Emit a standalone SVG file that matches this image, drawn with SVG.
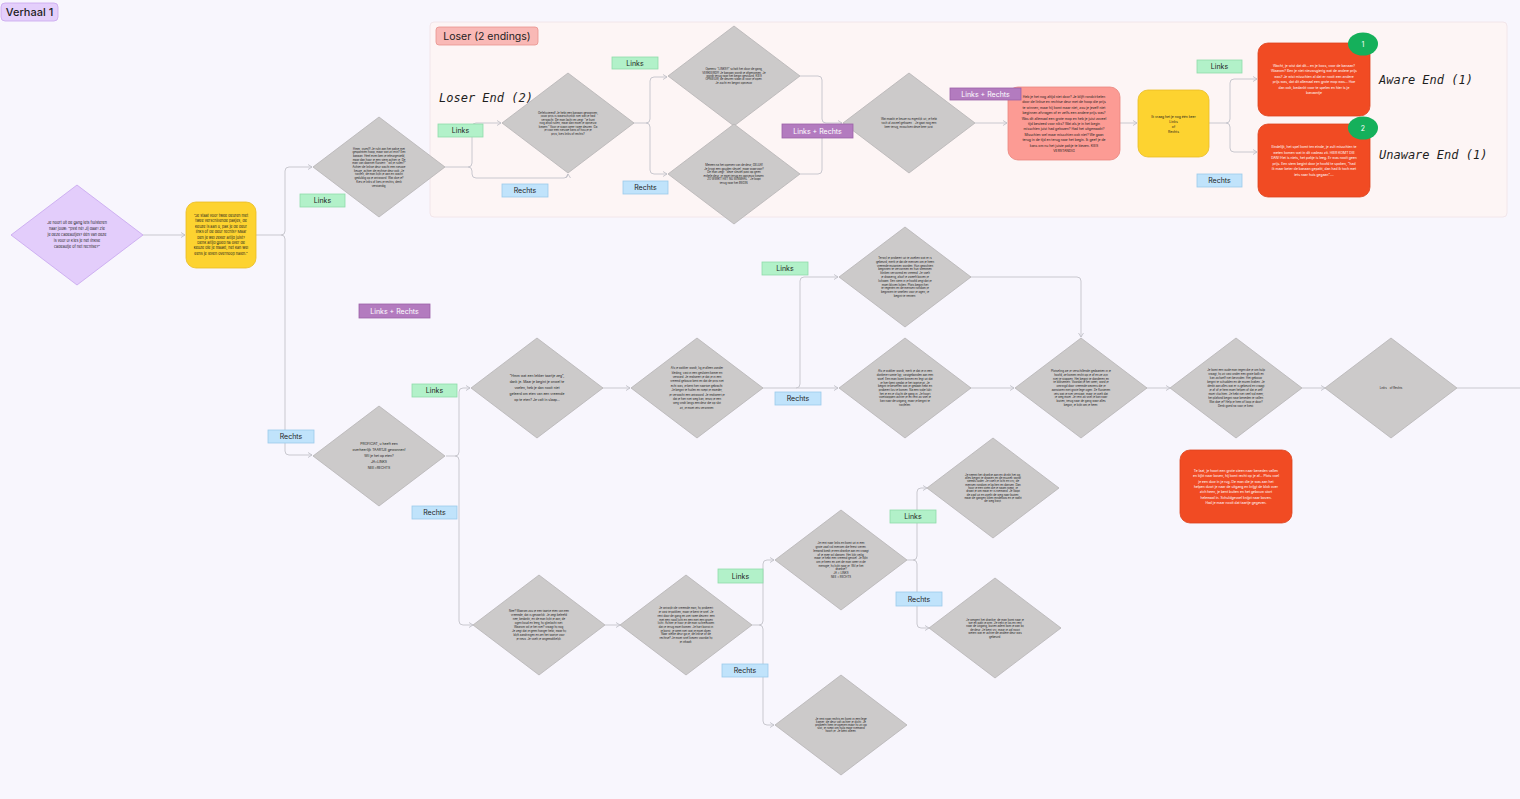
<svg xmlns="http://www.w3.org/2000/svg" xmlns:xlink="http://www.w3.org/1999/xlink" width="1520" height="799" viewBox="0 0 1520 799">
<style>
.t{font-family:Inter,"Liberation Sans",sans-serif;fill:#1e1e1e}
.w{font-family:Inter,"Liberation Sans",sans-serif;fill:#ffffff}
.tiny{font-size:2.8px}
.sm{font-size:3.4px}
.md{font-size:3.7px}
.lbl{font-size:7px}
.hand{font-family:"DejaVu Sans Mono",monospace;font-style:italic;font-size:12px;fill:#1e1e1e}
.conn{fill:none;stroke:#c9c8cf;stroke-width:1}
.green{fill:#b2f1c9;stroke:#8fdcaa;stroke-width:0.8}
.blue{fill:#c0e3fb;stroke:#9ccaea;stroke-width:0.8}
.purp{fill:#b37bbf;stroke:#9c62a8;stroke-width:0.8}
.dia{fill:#cccaca;stroke:#b6b4b5;stroke-width:0.8}
.red{fill:#f14b23;stroke:#dc421d;stroke-width:0.8}
.yel{fill:#fdd330;stroke:#e8bd24;stroke-width:0.8}
</style>
<defs>
<polygon id="dshape" class="dia" points="-66,0 0,-50 66,0 0,50"/>
<marker id="arr" markerWidth="6" markerHeight="6" refX="5" refY="3" orient="auto" markerUnits="userSpaceOnUse">
<path d="M1,0.5 L5,3 L1,5.5" fill="none" stroke="#bdbcc4" stroke-width="0.8"/>
</marker>
</defs>
<rect x="0" y="0" width="1520" height="799" fill="#f8f6fd"/>
<rect x="430" y="22" width="1077" height="195" rx="4" fill="#fdf5f5" stroke="#f2e6ea" stroke-width="1"/>

<g id="title">
<rect x="1" y="3" width="57" height="18" rx="4" fill="#e4cffb" stroke="#c8a6ee" stroke-width="0.8"/>
<text class="t" x="29.5" y="16" font-size="11" font-weight="500" text-anchor="middle">Verhaal 1</text>
</g>
<g id="section-loser">
<rect x="436" y="27" width="102" height="18" rx="3" fill="#f9b9b6" stroke="#e8928d" stroke-width="0.8"/>
<text class="t" x="487" y="40" font-size="10.5" text-anchor="middle">Loser (2 endings)</text>
<text class="hand" x="439" y="102">Loser End (2)</text>
<text class="hand" x="1379" y="84">Aware End (1)</text>
<text class="hand" x="1379" y="159">Unaware End (1)</text>
</g>

<g id="connectors">
<path class="conn" d="M143,235 H185" marker-end="url(#arr)"/>
<path class="conn" d="M256,235 H281 Q285,235 285,231 V171 Q285,167 289,167 H312" marker-end="url(#arr)"/>
<path class="conn" d="M281,235 Q285,235 285,239 V451 Q285,455 289,455 H312" marker-end="url(#arr)"/>
<path class="conn" d="M445,167 H468 Q472,167 472,163 V127 Q472,123 476,123 H501" marker-end="url(#arr)"/>
<path class="conn" d="M468,167 Q472,167 472,171 V174 Q472,178 476,178 H564 Q568,178 568,174" marker-end="url(#arr)"/>
<path class="conn" d="M633,123 H646 Q650,123 650,119 V81 Q650,77 654,77 H667" marker-end="url(#arr)"/>
<path class="conn" d="M646,123 Q650,123 650,127 V170 Q650,174 654,174 H667" marker-end="url(#arr)"/>
<path class="conn" d="M800,76 H818 Q822,76 822,80 V119 Q822,123 826,123 H842" marker-end="url(#arr)"/>
<path class="conn" d="M800,174 H818 Q822,174 822,170 V127"/>
<path class="conn" d="M975,123 H1007" marker-end="url(#arr)"/>
<path class="conn" d="M1120,123 H1137" marker-end="url(#arr)"/>
<path class="conn" d="M1209,123 H1226 Q1230,123 1230,119 V83 Q1230,79 1234,79 H1257" marker-end="url(#arr)"/>
<path class="conn" d="M1226,123 Q1230,123 1230,127 V148 Q1230,152 1234,152 H1257" marker-end="url(#arr)"/>
<path class="conn" d="M446,456 H455 Q459,456 459,452 V392 Q459,388 463,388 H470" marker-end="url(#arr)"/>
<path class="conn" d="M455,456 Q459,456 459,460 V621 Q459,625 463,625 H473" marker-end="url(#arr)"/>
<path class="conn" d="M602,388 H630" marker-end="url(#arr)"/>
<path class="conn" d="M762,388 H796 Q800,388 800,384 V281 Q800,277 804,277 H838" marker-end="url(#arr)"/>
<path class="conn" d="M796,388 H838" marker-end="url(#arr)"/>
<path class="conn" d="M970,277 H1077 Q1081,277 1081,281 V337" marker-end="url(#arr)"/>
<path class="conn" d="M970,388 H1014" marker-end="url(#arr)"/>
<path class="conn" d="M1146,388 H1170" marker-end="url(#arr)"/>
<path class="conn" d="M1302,388 H1325" marker-end="url(#arr)"/>
<path class="conn" d="M1457,388 H1520" stroke-width="1.5"/>
<path class="conn" d="M605,625 H620" marker-end="url(#arr)"/>
<path class="conn" d="M752,625 H759 Q763,625 763,621 V564 Q763,560 767,560 H774" marker-end="url(#arr)"/>
<path class="conn" d="M759,625 Q763,625 763,629 V721 Q763,725 767,725 H774" marker-end="url(#arr)"/>
<path class="conn" d="M907,560 H913 Q917,560 917,556 V492 Q917,488 921,488 H927" marker-end="url(#arr)"/>
<path class="conn" d="M913,560 Q917,560 917,564 V624 Q917,628 921,628 H929" marker-end="url(#arr)"/>
</g>

<g id="n-start" transform="translate(77,235)">
<polygon points="-66,0 0,-50 66,0 0,50" fill="#e3cdfb" stroke="#c7a5ef" stroke-width="0.8"/>
<text class="t md" text-anchor="middle" y="-10.7"><tspan x="0">Je hoort uit de gang iets fluisteren</tspan><tspan x="0" dy="6">naar jouw: "psst hé! Jij daar! Zie</tspan><tspan x="0" dy="6">je deze cadeautjes? één van deze</tspan><tspan x="0" dy="6">is voor u! Kies je het linkse</tspan><tspan x="0" dy="6">cadeautje of het rechtse?"</tspan></text>
</g>

<g id="n-deuren">
<rect class="yel" x="186" y="202" width="70" height="66" rx="10"/>
<text class="t md" text-anchor="middle" y="217"><tspan x="221">"Je staat voor twee deuren met</tspan><tspan x="221" dy="5.4">twee verschillende pakjes, de</tspan><tspan x="221" dy="5.4">keuze is aan u, pak je de deur</tspan><tspan x="221" dy="5.4">links of de deur rechts? Maar</tspan><tspan x="221" dy="5.4">ben je wel zeker altijd juist?</tspan><tspan x="221" dy="5.4">Denk altijd goed na over de</tspan><tspan x="221" dy="5.4">keuze die je maakt, het kan wel</tspan><tspan x="221" dy="5.4">eens je leven overhoop halen."</tspan></text>
</g>

<g id="n-A" transform="translate(379,167)">
<use xlink:href="#dshape"/>
<text class="t tiny" text-anchor="middle" y="-17.5"><tspan x="0">Hmm, ijsjes!!! Je rukt aan het pakje met</tspan><tspan x="0" dy="3.7">gespannen hoop, maar wat zit erin? Een</tspan><tspan x="0" dy="3.7">banaan. Heel even ben je teleurgesteld,</tspan><tspan x="0" dy="3.7">maar dan hoor je een stem achter je. De</tspan><tspan x="0" dy="3.7">man van daarnet fluistert: "wil je ruilen?"</tspan><tspan x="0" dy="3.7">Achter de linkse deur wacht een nieuwe</tspan><tspan x="0" dy="3.7">keuze, achter de rechtse deur ook. Je</tspan><tspan x="0" dy="3.7">twijfelt, de man kijkt je aan en wacht</tspan><tspan x="0" dy="3.7">geduldig op je antwoord. Wat doe je?</tspan><tspan x="0" dy="3.7">Kies je links of kies je rechts, denk</tspan><tspan x="0" dy="3.7">verstandig.</tspan></text>
</g>

<g id="n-B" transform="translate(568,123)">
<use xlink:href="#dshape"/>
<text class="t tiny" text-anchor="middle" y="-9.5"><tspan x="0">Gefeliciteerd! Je hebt een banaan gewonnen,</tspan><tspan x="0" dy="3.5">jouw prijs is waarschijnlijk niet wat je had</tspan><tspan x="0" dy="3.5">verwacht. De man lacht en zegt: "je kunt</tspan><tspan x="0" dy="3.5">nog altijd ruilen, maar dan moet je opnieuw</tspan><tspan x="0" dy="3.5">kiezen." Voor je staan weer twee deuren. Ga</tspan><tspan x="0" dy="3.5">je voor een nieuwe kans of hou je je</tspan><tspan x="0" dy="3.5">prijs, kies links of rechts?</tspan></text>
</g>

<g id="n-C" transform="translate(734,76)">
<use xlink:href="#dshape"/>
<text class="t tiny" text-anchor="middle" y="-5.6"><tspan x="0">Opeens: "LINKS!!" schalt het door de gang,</tspan><tspan x="0" dy="3.3">VERKEERD!!! Je banaan wordt je afgenomen. Je</tspan><tspan x="0" dy="3.3">wordt terug naar het begin gestuurd, KIES</tspan><tspan x="0" dy="3.3">OPNIEUW, de deuren staan al voor je open.</tspan><tspan x="0" dy="3.3">Je zucht en begint opnieuw.</tspan></text>
</g>

<g id="n-D" transform="translate(734,174)">
<use xlink:href="#dshape"/>
<text class="t tiny" text-anchor="middle" y="-7.7"><tspan x="0">Meteen na het openen van de deur, GELUK!</tspan><tspan x="0" dy="3.5">Je krijgt een gouden sleutel, maar waarvoor?</tspan><tspan x="0" dy="3.5">De man zegt: "deze sleutel past op geen</tspan><tspan x="0" dy="3.5">enkele deur, je moet terug en opnieuw kiezen.</tspan><tspan x="0" dy="3.5">ZO WERKT HET NU EENMAAL." Je loopt</tspan><tspan x="0" dy="3.5">terug naar het BEGIN.</tspan></text>
</g>

<g id="n-E" transform="translate(909,123)">
<use xlink:href="#dshape"/>
<text class="t tiny" text-anchor="middle" y="-3"><tspan x="0">Wat maakt je keuze nu eigenlijk uit, je hebt</tspan><tspan x="0" dy="4">toch al zoveel gekozen... Je gaat nog een</tspan><tspan x="0" dy="4">keer terug, misschien deze keer juist.</tspan></text>
</g>

<g id="n-pink">
<rect x="1008" y="87" width="112" height="73" rx="10" fill="#fc9b94" stroke="#e8857e" stroke-width="0.8"/>
<text class="t sm" text-anchor="middle" y="98"><tspan x="1064">Heb je het nog altijd niet door? Je blijft rondcirkelen</tspan><tspan x="1064" dy="5.4">door de linkse en rechtse deur met de hoop die prijs</tspan><tspan x="1064" dy="5.4">te winnen, maar hij komt maar niet, zou je jezelf niet</tspan><tspan x="1064" dy="5.4">beginnen afvragen of er zelfs een andere prijs was?</tspan><tspan x="1064" dy="5.4">Was dit allemaal een grote mop en heb je juist zoveel</tspan><tspan x="1064" dy="5.4">tijd besteed voor niks?  Wat als je in het begin</tspan><tspan x="1064" dy="5.4">misschien juist had gekozen? Had het uitgemaakt?</tspan><tspan x="1064" dy="5.4">Misschien wel maar misschien ook niet? We gaan</tspan><tspan x="1064" dy="5.4">terug in de tijd en terug naar het begin. Ik geef je de</tspan><tspan x="1064" dy="5.4">kans om nu het juiste pakje te kiezen. KIES</tspan><tspan x="1064" dy="5.4">VERSTANDIG</tspan></text>
</g>

<g id="n-vraag">
<rect class="yel" x="1138" y="90" width="71" height="67" rx="10"/>
<text class="t sm" text-anchor="middle" y="118"><tspan x="1173.5">Ik vraag het je nog één keer</tspan><tspan x="1173.5" dy="5">Links</tspan><tspan x="1173.5" dy="5">of</tspan><tspan x="1173.5" dy="5">Rechts</tspan></text>
</g>

<g id="n-aware">
<rect class="red" x="1258" y="43" width="112" height="73" rx="10"/>
<text class="w sm" text-anchor="middle" y="67"><tspan x="1314">Wacht, je wist dat dit... en je koos, voor de banaan?</tspan><tspan x="1314" dy="5.4">Waarom? Ben je niet nieuwsgierig wat de andere prijs</tspan><tspan x="1314" dy="5.4">was? Je wist misschien al dat er nooit een andere</tspan><tspan x="1314" dy="5.4">prijs was, dat dit allemaal een grote mop was... Hoe</tspan><tspan x="1314" dy="5.4">dan ook, bedankt voor te spelen en hier is je</tspan><tspan x="1314" dy="5.4">banaantje</tspan></text>
<ellipse cx="1363" cy="44" rx="15" ry="11.5" fill="#15b05b"/>
<text class="w" x="1363" y="46.5" font-size="7" text-anchor="middle">1</text>
</g>

<g id="n-unaware">
<rect class="red" x="1258" y="124" width="112" height="73" rx="10"/>
<text class="w sm" text-anchor="middle" y="148"><tspan x="1314">Eindelijk, het spel komt ten einde, je zult misschien te</tspan><tspan x="1314" dy="5.5">weten komen wat in dit cadeau zit. HIER KOMT DIE</tspan><tspan x="1314" dy="5.5">DAN! Het is niets, het pakje is leeg. Er was nooit geen</tspan><tspan x="1314" dy="5.5">prijs. Een stem begint door je hoofd te spoken, "had</tspan><tspan x="1314" dy="5.5">ik maar beter de banaan gepakt, dan had ik toch met</tspan><tspan x="1314" dy="5.5">iets naar huis gegaan"....</tspan></text>
<ellipse cx="1363" cy="128" rx="15" ry="11.5" fill="#15b05b"/>
<text class="w" x="1363" y="130.5" font-size="7" text-anchor="middle">2</text>
</g>

<g id="n-proficiat" transform="translate(379,456)">
<use xlink:href="#dshape"/>
<text class="t sm" text-anchor="middle" y="-10.8"><tspan x="0">PROFICIAT, u heeft een</tspan><tspan x="0" dy="6">overheerlijk TAARTJE gewonnen!</tspan><tspan x="0" dy="6">Wil je het op eten?</tspan><tspan x="0" dy="6">JA=LINKS</tspan><tspan x="0" dy="6">NEE=RECHTS</tspan></text>
</g>

<g id="n-F" transform="translate(537,388)">
<use xlink:href="#dshape"/>
<text class="t sm" text-anchor="middle" y="-10.8"><tspan x="0">"Hmm wat een lekker taartje zeg",</tspan><tspan x="0" dy="6">dank je. Maar je begint je onwel te</tspan><tspan x="0" dy="6">voelen, heb je dan nooit niet</tspan><tspan x="0" dy="6">geleerd om eten van een vreemde</tspan><tspan x="0" dy="6">op te eten? Je valt in slaap...</tspan></text>
</g>

<g id="n-G" transform="translate(697,388)">
<use xlink:href="#dshape"/>
<text class="t tiny" text-anchor="middle" y="-18.8"><tspan x="0">Als je wakker wordt, lig je alleen zonder</tspan><tspan x="0" dy="4.4">kleding, vast in een gesloten kamer en</tspan><tspan x="0" dy="4.4">verward. Je realiseert je dat je in een</tspan><tspan x="0" dy="4.4">vreemd gebouw bent en dat de prijs niet</tspan><tspan x="0" dy="4.4">echt was, je bent hier naartoe gebracht.</tspan><tspan x="0" dy="4.4">Je begint te huilen en roept je moeder,</tspan><tspan x="0" dy="4.4">je verwacht een antwoord. Je realiseert je</tspan><tspan x="0" dy="4.4">dat je hier niet weg kan, tenzij je een</tspan><tspan x="0" dy="4.4">weg vindt langs een deur die op slot</tspan><tspan x="0" dy="4.4">zit, je moet iets verzinnen.</tspan></text>
</g>

<g id="n-H" transform="translate(905,277)">
<use xlink:href="#dshape"/>
<text class="t tiny" text-anchor="middle" y="-18"><tspan x="0">Terwijl je probeert uit te zoeken wat er is</tspan><tspan x="0" dy="3.8">gebeurd, merk je dat de mensen om je heen</tspan><tspan x="0" dy="3.8">vreemde mutanten worden. Hun gezichten</tspan><tspan x="0" dy="3.8">beginnen te vervormen en hun stemmen</tspan><tspan x="0" dy="3.8">klinken vervormd en vreemd. Je voelt</tspan><tspan x="0" dy="3.8">je draaierig, alsof je zweeft boven je</tspan><tspan x="0" dy="3.8">lichaam. Een stem in je hoofd zegt dat je</tspan><tspan x="0" dy="3.8">moet blijven kijken. Plots begint het</tspan><tspan x="0" dy="3.8">te regenen en de mensen rondom je</tspan><tspan x="0" dy="3.8">beginnen te smelten voor je ogen, je</tspan><tspan x="0" dy="3.8">begint te rennen.</tspan></text>
</g>

<g id="n-I" transform="translate(905,388)">
<use xlink:href="#dshape"/>
<text class="t tiny" text-anchor="middle" y="-15.6"><tspan x="0">Als je wakker wordt, merk je dat je in een</tspan><tspan x="0" dy="3.7">donkere ruimte ligt, vastgebonden aan een</tspan><tspan x="0" dy="3.7">stoel. Een man komt binnen en legt uit dat</tspan><tspan x="0" dy="3.7">je hier bent omdat je het taartje at. Je</tspan><tspan x="0" dy="3.7">begint te beseffen wat je gedaan hebt en</tspan><tspan x="0" dy="3.7">probeert los te komen. Na een tijdje lukt</tspan><tspan x="0" dy="3.7">het je en je vlucht de gang in. Je hoort</tspan><tspan x="0" dy="3.7">voetstappen achter je en rent zo snel je</tspan><tspan x="0" dy="3.7">kan naar de uitgang, maar je begint te</tspan><tspan x="0" dy="3.7">twijfelen.</tspan></text>
</g>

<g id="n-K" transform="translate(1081,388)">
<use xlink:href="#dshape"/>
<text class="t tiny" text-anchor="middle" y="-16.1"><tspan x="0">Plotseling zie je verschillende gedaanten in je</tspan><tspan x="0" dy="3.8">hoofd, ze komen recht op je af en ze zijn</tspan><tspan x="0" dy="3.8">niet te stoppen. Het begint te donderen en</tspan><tspan x="0" dy="3.8">te bliksemen. Voordat je het weet, word je</tspan><tspan x="0" dy="3.8">omringd door vreemde wezens die je</tspan><tspan x="0" dy="3.8">aanstaren met grote lege ogen. Ze fluisteren</tspan><tspan x="0" dy="3.8">iets wat je niet verstaat, maar je voelt dat</tspan><tspan x="0" dy="3.8">je weg moet. Je rent zo snel je kan naar</tspan><tspan x="0" dy="3.8">buiten, terug naar de gang waar alles</tspan><tspan x="0" dy="3.8">begon, je kijkt om je heen.</tspan></text>
</g>

<g id="n-L" transform="translate(1236,388)">
<use xlink:href="#dshape"/>
<text class="t tiny" text-anchor="middle" y="-17"><tspan x="0">Je komt een oude man tegen die je om hulp</tspan><tspan x="0" dy="4">vraagt, hij zit vast onder een grote balk en</tspan><tspan x="0" dy="4">kan zichzelf niet bevrijden. Het gebouw</tspan><tspan x="0" dy="4">begint te schudden en de muren kraken. Je</tspan><tspan x="0" dy="4">denkt aan alles wat er is gebeurd en vraagt</tspan><tspan x="0" dy="4">je af of je hem moet helpen of dat je zelf</tspan><tspan x="0" dy="4">moet vluchten. Je hebt niet veel tijd meer,</tspan><tspan x="0" dy="4">het plafond begint naar beneden te vallen.</tspan><tspan x="0" dy="4">Wat doe je? Help je hem of loop je door?</tspan><tspan x="0" dy="4">Denk goed na voor je kiest.</tspan></text>
</g>

<g id="n-M" transform="translate(1391,388)">
<use xlink:href="#dshape"/>
<text class="t tiny" text-anchor="middle" x="0" y="1">Links... of Rechts</text>
</g>

<g id="n-telaat">
<rect class="red" x="1180" y="450" width="112" height="73" rx="10"/>
<text class="w sm" text-anchor="middle" y="472"><tspan x="1236">Te laat, je hoort een grote steen naar beneden vallen</tspan><tspan x="1236" dy="5.3">en kijkt naar boven, hij komt recht op je af... Plots voel</tspan><tspan x="1236" dy="5.3">je een duw in je rug. De man die je was aan het</tspan><tspan x="1236" dy="5.3">helpen duwt je naar de uitgang en krijgt de blok over</tspan><tspan x="1236" dy="5.3">zich heen, je bent buiten en het gebouw stort</tspan><tspan x="1236" dy="5.3">helemaal in. Schuldgevoel knijpt naar boven.</tspan><tspan x="1236" dy="5.3">Had je maar nooit dat taartje gegeven.</tspan></text>
</g>

<g id="n-J" transform="translate(539,625)">
<use xlink:href="#dshape"/>
<text class="t tiny" text-anchor="middle" y="-13"><tspan x="0">Nee? Waarom zou je een taartje eten van een</tspan><tspan x="0" dy="4">vreemde, dat is gevaarlijk. Je zegt beleefd</tspan><tspan x="0" dy="4">nee, bedankt, en de man kijkt je aan, de</tspan><tspan x="0" dy="4">ogen koud en leeg, hij glimlacht niet.</tspan><tspan x="0" dy="4">Waarom wil je het niet? vraagt hij nog.</tspan><tspan x="0" dy="4">Je zegt dat je geen honger hebt, maar hij</tspan><tspan x="0" dy="4">blijft aandringen en zet het taartje voor</tspan><tspan x="0" dy="4">je neus. Je voelt je ongemakkelijk.</tspan></text>
</g>

<g id="n-N" transform="translate(686,625)">
<use xlink:href="#dshape"/>
<text class="t tiny" text-anchor="middle" y="-15.6"><tspan x="0">Je ontwijkt de vreemde man, hij probeert</tspan><tspan x="0" dy="3.7">je vast te pakken, maar je bent te snel. Je</tspan><tspan x="0" dy="3.7">rent door de gang en ziet twee deuren: een</tspan><tspan x="0" dy="3.7">met een rood licht en een met een groen</tspan><tspan x="0" dy="3.7">licht. Achter je hoor je de man schreeuwen</tspan><tspan x="0" dy="3.7">dat je terug moet komen. Je hart bonst in</tspan><tspan x="0" dy="3.7">je borst, je weet niet wat je moet doen.</tspan><tspan x="0" dy="3.7">Naar welke deur ga je, de linkse of de</tspan><tspan x="0" dy="3.7">rechtse? Je moet snel kiezen voordat hij</tspan><tspan x="0" dy="3.7">je inhaalt.</tspan></text>
</g>

<g id="n-O" transform="translate(841,560)">
<use xlink:href="#dshape"/>
<text class="t tiny" text-anchor="middle" y="-15.6"><tspan x="0">Je rent naar links en komt uit in een</tspan><tspan x="0" dy="3.7">grote zaal vol mensen die feest vieren.</tspan><tspan x="0" dy="3.7">Iemand biedt je een drankje aan en vraagt</tspan><tspan x="0" dy="3.7">of je mee wil dansen. Het lijkt veilig,</tspan><tspan x="0" dy="3.7">maar je hebt een vreemd gevoel. Je kijkt</tspan><tspan x="0" dy="3.7">om je heen en ziet de man weer in de</tspan><tspan x="0" dy="3.7">menigte, hij kijkt naar je. Wil je het</tspan><tspan x="0" dy="3.7">drankje?</tspan><tspan x="0" dy="3.7">JA = LINKS</tspan><tspan x="0" dy="3.7">NEE = RECHTS</tspan></text>
</g>

<g id="n-P" transform="translate(993,488)">
<use xlink:href="#dshape"/>
<text class="t tiny" text-anchor="middle" y="-12.2"><tspan x="0">Je neemt het drankje aan en drinkt het op,</tspan><tspan x="0" dy="3.3">alles begint te draaien en de muziek wordt</tspan><tspan x="0" dy="3.3">steeds luider. Je voelt je licht en vrij, de</tspan><tspan x="0" dy="3.3">mensen rondom je lachen en dansen. Dan</tspan><tspan x="0" dy="3.3">hoor je een stem die je naam roept, je</tspan><tspan x="0" dy="3.3">draait je om maar er is niemand. Je loopt</tspan><tspan x="0" dy="3.3">de zaal uit en zoekt de weg naar buiten,</tspan><tspan x="0" dy="3.3">maar de gangen lijken eindeloos en je raakt</tspan><tspan x="0" dy="3.3">de weg kwijt.</tspan></text>
</g>

<g id="n-R" transform="translate(995,628)">
<use xlink:href="#dshape"/>
<text class="t tiny" text-anchor="middle" y="-7.5"><tspan x="0">Je weigert het drankje, de man komt naar je</tspan><tspan x="0" dy="3.4">toe en pakt je arm. Je trekt je los en rent</tspan><tspan x="0" dy="3.4">naar de uitgang, buiten adem kom je aan bij</tspan><tspan x="0" dy="3.4">de deur. Je bent vrij, maar je zal nooit</tspan><tspan x="0" dy="3.4">weten wat er achter de andere deur was</tspan><tspan x="0" dy="3.4">gebeurd.</tspan></text>
</g>

<g id="n-Q" transform="translate(841,725)">
<use xlink:href="#dshape"/>
<text class="t tiny" text-anchor="middle" y="-5.4"><tspan x="0">Je rent naar rechts en komt in een lege</tspan><tspan x="0" dy="3.2">kamer, de deur valt achter je dicht. Je</tspan><tspan x="0" dy="3.2">probeert hem te openen maar hij zit op</tspan><tspan x="0" dy="3.2">slot, je roept om hulp maar niemand</tspan><tspan x="0" dy="3.2">hoort je. Je bent alleen.</tspan></text>
</g>

<g id="labels">
<rect class="green" x="300" y="194" width="45" height="13"/><text class="t lbl" x="322.5" y="203" text-anchor="middle">Links</text>
<rect class="green" x="438" y="124" width="45" height="13"/><text class="t lbl" x="460.5" y="133" text-anchor="middle">Links</text>
<rect class="blue" x="502" y="184" width="46" height="13"/><text class="t lbl" x="525" y="193" text-anchor="middle">Rechts</text>
<rect class="green" x="612" y="57" width="46" height="12"/><text class="t lbl" x="635" y="65.5" text-anchor="middle">Links</text>
<rect class="blue" x="623" y="181" width="45" height="13"/><text class="t lbl" x="645.5" y="190" text-anchor="middle">Rechts</text>
<rect class="purp" x="782" y="124" width="71" height="14"/><text class="w lbl" x="817.5" y="133.5" text-anchor="middle">Links + Rechts</text>
<rect class="purp" x="950" y="88" width="71" height="12"/><text class="w lbl" x="985.5" y="96.5" text-anchor="middle">Links + Rechts</text>
<rect class="green" x="1197" y="60" width="45" height="13"/><text class="t lbl" x="1219.5" y="69" text-anchor="middle">Links</text>
<rect class="blue" x="1197" y="174" width="45" height="13"/><text class="t lbl" x="1219.5" y="183" text-anchor="middle">Rechts</text>
<rect class="purp" x="359" y="304" width="71" height="14"/><text class="w lbl" x="394.5" y="313.5" text-anchor="middle">Links + Rechts</text>
<rect class="blue" x="268" y="430" width="46" height="13"/><text class="t lbl" x="291" y="439" text-anchor="middle">Rechts</text>
<rect class="green" x="412" y="384" width="45" height="13"/><text class="t lbl" x="434.5" y="393" text-anchor="middle">Links</text>
<rect class="blue" x="412" y="506" width="45" height="13"/><text class="t lbl" x="434.5" y="515" text-anchor="middle">Rechts</text>
<rect class="green" x="762" y="262" width="46" height="13"/><text class="t lbl" x="785" y="271" text-anchor="middle">Links</text>
<rect class="blue" x="775" y="392" width="46" height="13"/><text class="t lbl" x="798" y="401" text-anchor="middle">Rechts</text>
<rect class="green" x="718" y="569" width="45" height="14"/><text class="t lbl" x="740.5" y="578.5" text-anchor="middle">Links</text>
<rect class="blue" x="722" y="664" width="46" height="13"/><text class="t lbl" x="745" y="673" text-anchor="middle">Rechts</text>
<rect class="green" x="890" y="510" width="46" height="13"/><text class="t lbl" x="913" y="519" text-anchor="middle">Links</text>
<rect class="blue" x="896" y="592" width="46" height="14"/><text class="t lbl" x="919" y="601.5" text-anchor="middle">Rechts</text>
</g>
</svg>
